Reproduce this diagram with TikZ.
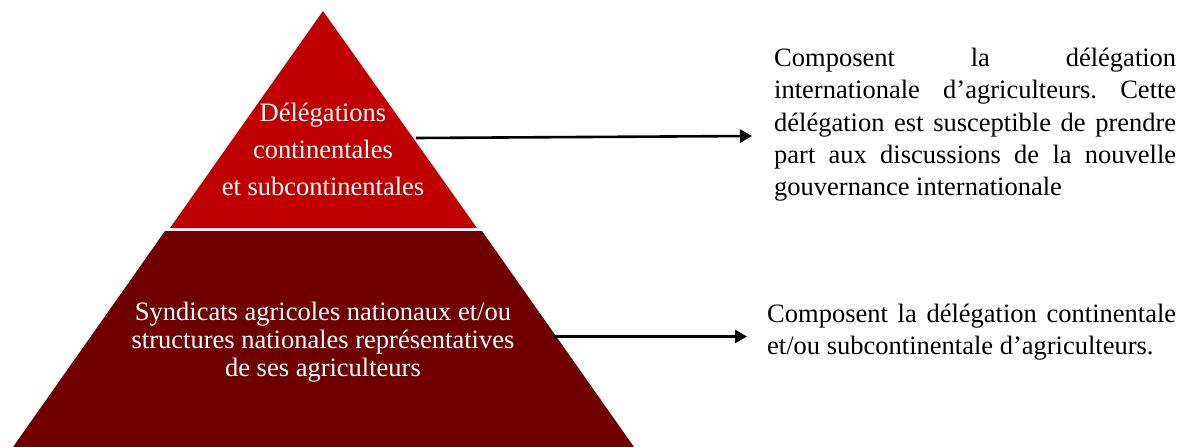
\documentclass[tikz,border=0pt]{standalone}
\usepackage{fontspec}
\setmainfont{Liberation Serif}
\usepackage{xcolor}
\usetikzlibrary{arrows.meta}
\frenchspacing

\definecolor{topred}{RGB}{192,0,0}
\definecolor{basered}{RGB}{112,0,0}

\tikzset{
  pointer/.style={line width=2.6pt, -{Triangle[length=12pt,width=13pt]}},
  layertext/.style={text=white, align=center, anchor=base, inner sep=0pt},
  notetext/.style={anchor=base west, align=justify, inner sep=0pt,
    font=\fontsize{26.5}{32.5}\selectfont}
}

\begin{document}
\begin{tikzpicture}[x=1pt, y=-1pt]
        \useasboundingbox (0, 0) rectangle (1184, 447);

        \fill[topred] (323, 11) -- (477, 228) -- (170, 228) -- cycle;
        \fill[basered] (165, 231) -- (482, 231) -- (634, 447) -- (13, 447) -- cycle;

        \node[layertext, font=\fontsize{26.5}{36.7}\selectfont] (upperlayer) at (323, 195)
            {Délégations\\ continentales\\ et subcontinentales};
        \node[layertext, font=\fontsize{26.5}{28}\selectfont] (lowerlayer) at (323, 376)
            {Syndicats agricoles nationaux et/ou\\ structures nationales représentatives\\ de ses agriculteurs};

        \node[notetext, text width=402pt] (uppernote) at (774, 66)
            {Composent la délégation\linebreak internationale d’agriculteurs. Cette\linebreak délégation est susceptible de prendre\linebreak part aux discussions de la nouvelle\linebreak gouvernance internationale};
        \node[notetext, text width=409pt] (lowernote) at (767, 322)
            {Composent la délégation continentale\linebreak et/ou subcontinentale d’agriculteurs.};

        \coordinate (upperfrom) at (416, 138);
        \coordinate (upperto) at (752, 136);
        \coordinate (lowerfrom) at (553, 336.5);
        \coordinate (lowerto) at (747, 336.5);
        \draw[pointer] (upperfrom) -- (upperto);
        \draw[pointer] (lowerfrom) -- (lowerto);
\end{tikzpicture}
\end{document}
